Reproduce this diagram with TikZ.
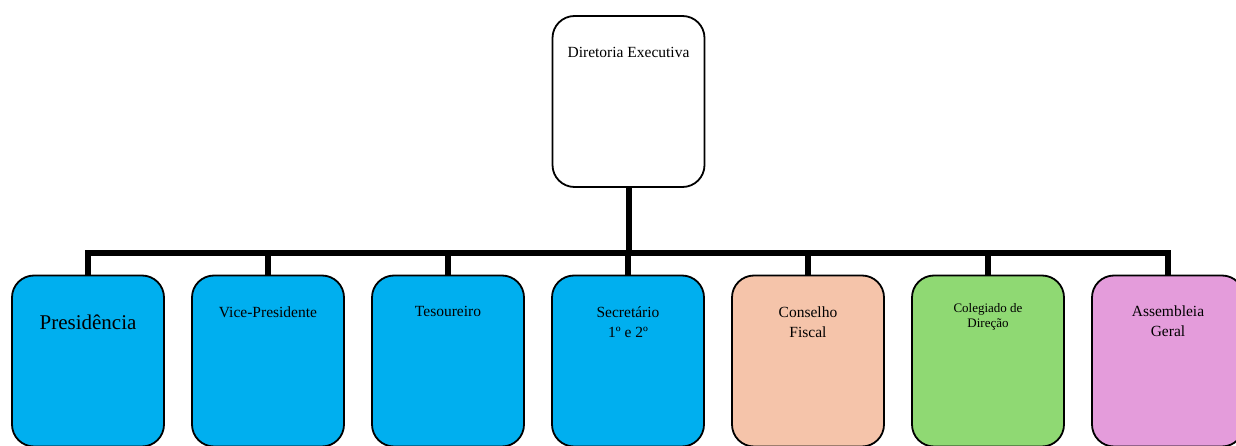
\documentclass[tikz,border=0pt]{standalone}
\usepackage{fontspec}
\setmainfont{Liberation Serif}
\definecolor{cblue}{HTML}{00AFEF}
\definecolor{cpeach}{HTML}{F5C4AA}
\definecolor{cgreen}{HTML}{8FD973}
\definecolor{cpink}{HTML}{E49CDB}
\tikzset{
  orgbox/.style={draw=black, line width=1.8pt, rounded corners=22pt, minimum width=152pt, minimum height=171pt, inner sep=0pt, outer sep=0pt},
  conn/.style={draw=black, line width=6pt},
  lbl/.style={anchor=base, align=center, inner sep=0pt, font=\fontsize{15.5}{20}\selectfont},
}
\begin{document}
\begin{tikzpicture}[x=1pt,y=1pt]
\useasboundingbox (0,0) rectangle (1236,445);
\clip (0,0) rectangle (1236,445);
% top box
\node[orgbox, fill=white] (top) at (628.5,343.5) {};
% bottom boxes
\node[orgbox, fill=cblue]  (b1) at (88,84) {};
\node[orgbox, fill=cblue]  (b2) at (268,84) {};
\node[orgbox, fill=cblue]  (b3) at (448,84) {};
\node[orgbox, fill=cblue]  (b4) at (628,84) {};
\node[orgbox, fill=cpeach] (b5) at (808,84) {};
\node[orgbox, fill=cgreen] (b6) at (988,84) {};
\node[orgbox, fill=cpink]  (b7) at (1168,84) {};
% connectors
\coordinate (bar) at (628,192);
\draw[conn] (top.south) -- (top.south |- bar);
\draw[conn] (b1.north) -- (b1.north |- bar) -- (b7.north |- bar) -- (b7.north);
\foreach \i in {2,...,6}{\draw[conn] (b\i.north |- bar) -- (b\i.north);}
% labels
\node[lbl] (t0) at (628.5,387) {Diretoria Executiva};
\node[lbl, font=\fontsize{21}{25}\selectfont] (t1) at (88,116) {Presidência};
\node[lbl] (t2) at (268,128) {Vice-Presidente};
\node[lbl] (t3) at (448,129) {Tesoureiro};
\node[lbl] (t4) at (628,108) {Secretário\\1º e 2º};
\node[lbl] (t5) at (808,108) {Conselho\\Fiscal};
\node[lbl, font=\fontsize{13}{15}\selectfont] (t6) at (988,118) {Colegiado de\\Direção};
\node[lbl] (t7) at (1168,109) {Assembleia\\Geral};
\end{tikzpicture}
\end{document}
